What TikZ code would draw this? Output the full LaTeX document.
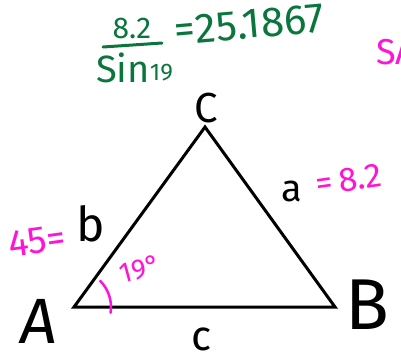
\documentclass[tikz,border=0pt]{standalone}
\usepackage{fontspec}
\setmainfont{Fira Sans}
\definecolor{pen}{RGB}{0,0,0}
\definecolor{grn}{RGB}{10,118,62}
\definecolor{mag}{RGB}{255,20,215}
\begin{document}
\begin{tikzpicture}[x=1pt,y=-1pt,
  lbl/.style={inner sep=0pt,text=pen},
  glbl/.style={inner sep=0pt,text=grn},
  mlbl/.style={inner sep=0pt,text=mag},
  side/.style={draw=pen,line width=3pt,line join=miter}]
\useasboundingbox (0,0) rectangle (401,360);
\clip (0,0) rectangle (401,360);
% vertices
\coordinate (A) at (74,307);
\coordinate (B) at (335,307);
\coordinate (C) at (205,127);
\draw[side] (A) -- (B) -- (C) -- cycle;
% vertex labels
\node[lbl,font=\fontsize{64}{64}\selectfont\addfontfeature{FakeSlant=0.1}] (lA) at (37,321) {A};
\node[lbl,font=\fontsize{72}{72}\selectfont] (lB) at (367,305) {B};
\node[lbl,font=\fontsize{42}{42}\selectfont] (lC) at (206,108) {C};
% side labels
\node[lbl,font=\fontsize{48}{48}\selectfont] (lb) at (91,224) {b};
\node[lbl,font=\fontsize{38}{38}\selectfont] (la) at (292,191) {a};
\node[lbl,font=\fontsize{42}{42}\selectfont] (lc) at (202,339) {c};
% magenta annotations
\node[mlbl,font=\fontsize{38}{38}\selectfont,rotate=8] (l45) at (37,241) {45=};
\node[mlbl,font=\fontsize{34}{34}\selectfont,rotate=8,anchor=west] (la2) at (316,184) {=\,8.2};
\node[mlbl,font=\fontsize{28}{28}\selectfont,rotate=15] (l19) at (140,269) {19°};
\draw[mag,line width=2.5pt,line cap=round] (A) ++(-45:37) arc[start angle=-45,end angle=9,radius=37];
\node[mlbl,font=\fontsize{36}{36}\selectfont,anchor=west] (lcut) at (376,52) {SA};
% green computation
\node[glbl,font=\fontsize{30}{30}\selectfont] (n82) at (132,28) {8.2};
\node[glbl,font=\fontsize{38}{38}\selectfont,anchor=west] (nsin) at (96,68) {Sin\raisebox{2pt}{\fontsize{24}{24}\selectfont 19}};
\draw[grn,line width=3pt,line cap=round] (103,47) -- (162,43);
\node[glbl,font=\fontsize{42}{42}\selectfont,rotate=5,anchor=west] (nres) at (174,31) {=25.1867};
\end{tikzpicture}
\end{document}
